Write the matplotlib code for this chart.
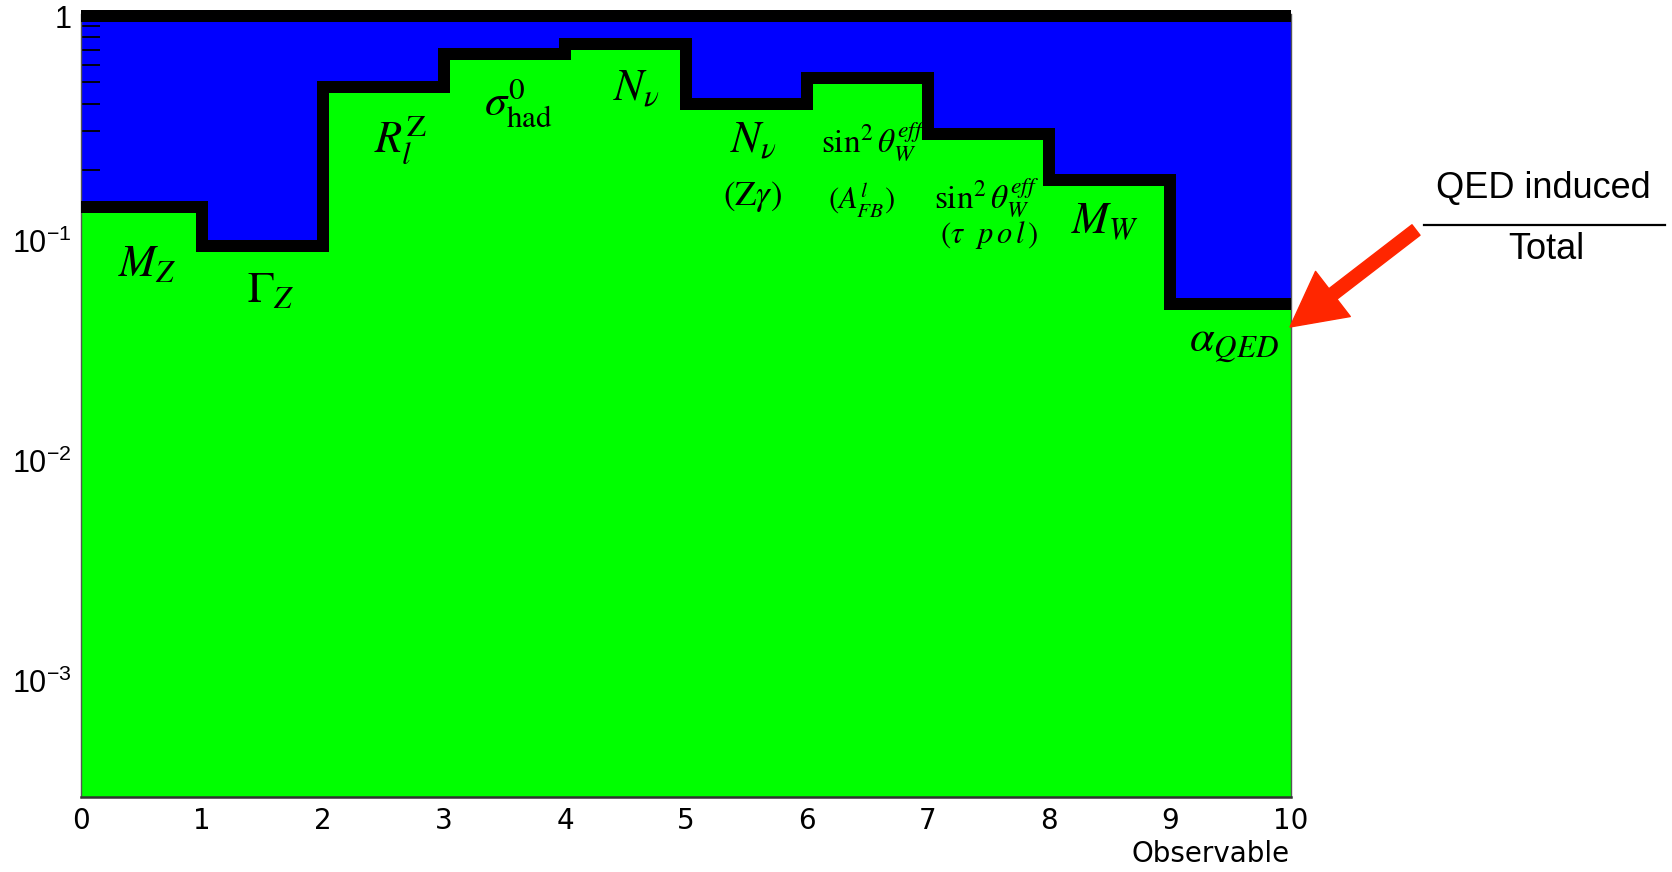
import numpy as np
import matplotlib
matplotlib.use("Agg")
import matplotlib.pyplot as plt
import matplotlib.transforms as mtransforms
from matplotlib.ticker import FixedLocator, NullFormatter

plt.rcParams['mathtext.fontset'] = 'custom'
plt.rcParams['mathtext.rm'] = 'Liberation Sans'
plt.rcParams['mathtext.it'] = 'Liberation Sans:italic'
plt.rcParams['mathtext.bf'] = 'Liberation Sans:bold'

# ---------------- data ----------------
bin_edges = list(range(11))
qed_fraction = [0.135, 0.0896, 0.476, 0.672, 0.746, 0.398, 0.525, 0.291, 0.180, 0.0491]
total_fraction = [1.0] * 10
obs_labels = [r'$M_Z$', r'$\Gamma_Z$', r'$R_l^{\mathrm{Z}}$', r'$\sigma_{\mathrm{had}}^{0}$',
              r'$N_\nu$', r'$N_\nu$', r'$\sin^2\theta_W^{eff}$', r'$\sin^2\theta_W^{eff}$',
              r'$M_W$', r'$\alpha_{QED}$']
sub_labels = [r'$(\mathrm{Z}\gamma)$', r'$(A_{FB}^{l})$', r'$(\tau\ \ p\,o\,l\,)$']
ytick_vals = [1e-3, 1e-2, 1e-1, 1]
ytick_text = [r'$10^{-3}$', r'$10^{-2}$', r'$10^{-1}$', '1']
xtick_vals = list(range(11))
minor_vals = [0.2, 0.3, 0.4, 0.5, 0.6, 0.7, 0.8, 0.9]

W, H = 1672, 872
fig = plt.figure(figsize=(W / 100, H / 100), dpi=100)
AX_L, AX_R, AX_T, AX_B = 81, 1291, 14, 797
ax = fig.add_axes([AX_L / W, 1 - AX_B / H, (AX_R - AX_L) / W, (AX_B - AX_T) / H])

Y1PX, DEC = 16, 220.0
ymin = 10 ** (-(AX_B - Y1PX) / DEC)
ymax = 10 ** ((Y1PX - AX_T) / DEC)

ax.set_yscale('log')
ax.set_xlim(0, 10)
ax.set_ylim(ymin, ymax)

edges = np.array(bin_edges, dtype=float)
qv = np.array(qed_fraction)
tv = np.array(total_fraction)

ax.fill_between(edges, ymin, np.append(tv, tv[-1]), step='post', color='#0000ff', lw=0, zorder=1)
ax.fill_between(edges, ymin, np.append(qv, qv[-1]), step='post', color='#00ff00', lw=0, zorder=1.2)

lw = 12 * 0.72
ax.step(edges, np.append(qv, qv[-1]), where='post', color='k', lw=lw,
        solid_joinstyle='miter', solid_capstyle='butt', clip_on=False, zorder=3)
ax.step(edges, np.append(tv, tv[-1]), where='post', color='k', lw=lw,
        solid_joinstyle='miter', solid_capstyle='butt', clip_on=False, zorder=3)


def at(px, py):
    return (px - AX_L) / 121.0, 10 ** (-(py - Y1PX) / DEC)


# text labels (positions in reference pixels)
lab_pos = [(147, 263, 32), (271, 289, 32), (401, 140, 32), (518, 102, 32),
           (636, 88, 32), (753, 140, 32), (874, 141, 24), (987, 197, 24),
           (1105, 221, 32), (1234, 342, 32)]
for s, (px, py, fs) in zip(obs_labels, lab_pos):
    x, y = at(px, py)
    ax.text(x, y, s, fontsize=fs, ha='center', va='center', math_fontfamily='stix', zorder=2.5)

sub_pos = [(752, 196, 25), (862, 199, 22), (989, 235, 22)]
for s, (px, py, fs) in zip(sub_labels, sub_pos):
    x, y = at(px, py)
    ax.text(x, y, s, fontsize=fs, ha='center', va='center', math_fontfamily='stix', zorder=2.5)

# axes styling
ax.yaxis.set_major_locator(FixedLocator(ytick_vals))
ax.set_yticklabels(ytick_text)
ax.yaxis.set_minor_locator(FixedLocator(minor_vals))
ax.yaxis.set_minor_formatter(NullFormatter())
ax.tick_params(axis='y', which='major', length=0, pad=7, labelsize=22,
               labelfontfamily='Liberation Sans')
ax.tick_params(axis='y', which='minor', direction='in', length=13.7, width=1.3, color='k')
ax.set_xticks(xtick_vals)
ax.tick_params(axis='x', which='major', length=0, pad=7, labelsize=20,
               labelfontfamily='DejaVu Sans')
ax.tick_params(axis='x', which='minor', length=0)

# ROOT places the power-of-ten labels slightly lower
shift = mtransforms.ScaledTranslation(0, -5 / 100, fig.dpi_scale_trans)
for tick in ax.yaxis.get_major_ticks()[:3]:
    tick.label1.set_transform(tick.label1.get_transform() + shift)

for side in ['left', 'right']:
    ax.spines[side].set_color('#555555')
    ax.spines[side].set_linewidth(1.0)
ax.spines['bottom'].set_color('#333333')
ax.spines['bottom'].set_linewidth(1.8)
ax.spines['top'].set_visible(False)

fig.text(1290 / W, 1 - 854 / H, 'Observable', fontsize=20, family='DejaVu Sans',
         ha='right', va='center')

# annotation: ratio label and arrow
fig.text(1543 / W, 1 - 188 / H, 'QED induced', fontsize=26, family='Liberation Sans',
         ha='center', va='center')
fig.text(1546 / W, 1 - 249 / H, 'Total', fontsize=26, family='Liberation Sans',
         ha='center', va='center')
fig.add_artist(plt.Line2D([1424 / W, 1665 / W], [1 - 225 / H, 1 - 225 / H],
                          transform=fig.transFigure, color='k', lw=1.6))

ax.annotate('', xy=(1290, H - 327), xytext=(1416, H - 230),
            xycoords='figure pixels', textcoords='figure pixels',
            arrowprops=dict(arrowstyle='simple,head_length=39,head_width=41,tail_width=9.5',
                            color='#ff2600', shrinkA=0, shrinkB=0, mutation_scale=1),
            annotation_clip=False)

fig.savefig('out.png', dpi=100)
